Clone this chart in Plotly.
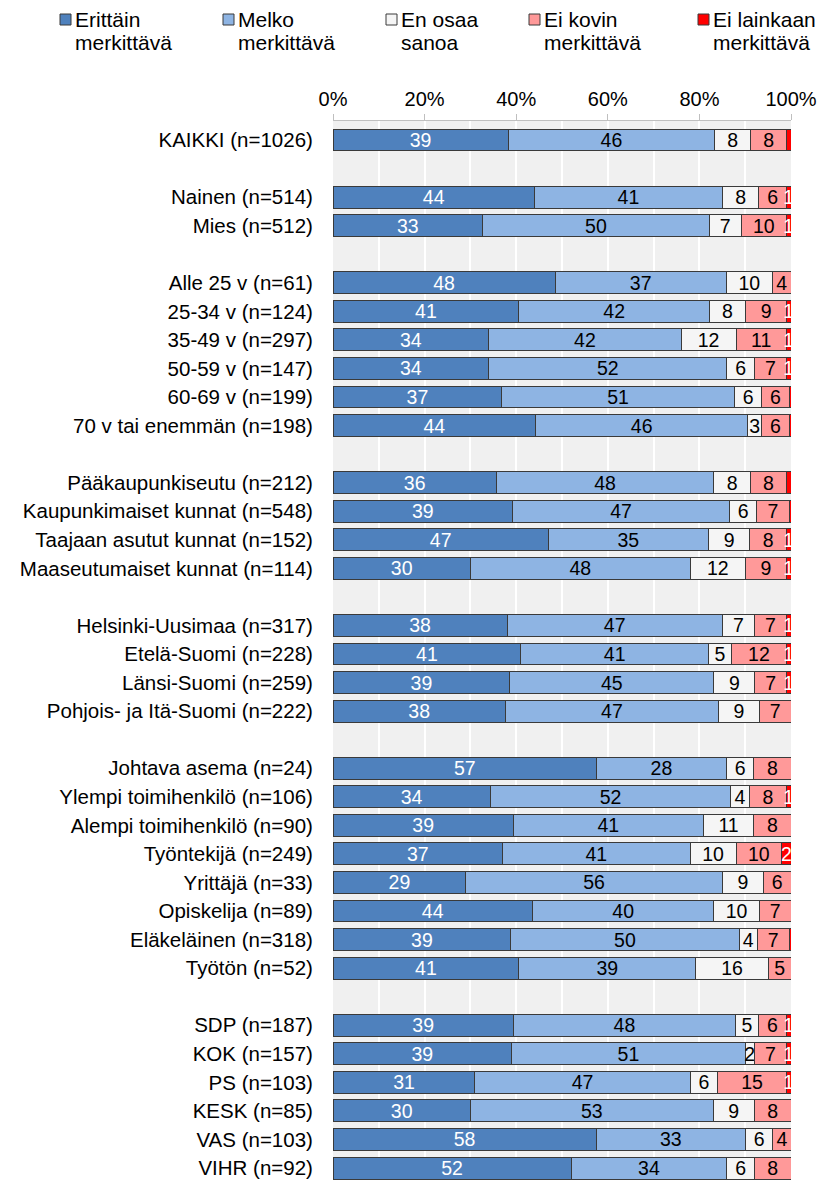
import plotly.graph_objects as go

# ---------------- data ----------------
series_names = ["Erittäin merkittävä", "Melko merkittävä", "En osaa sanoa",
                "Ei kovin merkittävä", "Ei lainkaan merkittävä"]
legend_line1 = ["Erittäin", "Melko", "En osaa", "Ei kovin", "Ei lainkaan"]
legend_line2 = ["merkittävä", "merkittävä", "sanoa", "merkittävä", "merkittävä"]
series_colors = ["#4f81bd", "#8eb4e3", "#f5f5f5", "#ff9999", "#ff0000"]
text_colors = ["white", "black", "black", "black", "white"]

groups = [
    ["KAIKKI (n=1026)"],
    ["Nainen (n=514)", "Mies (n=512)"],
    ["Alle 25 v (n=61)", "25-34 v (n=124)", "35-49 v (n=297)", "50-59 v (n=147)",
     "60-69 v (n=199)", "70 v tai enemmän (n=198)"],
    ["Pääkaupunkiseutu (n=212)", "Kaupunkimaiset kunnat (n=548)",
     "Taajaan asutut kunnat (n=152)", "Maaseutumaiset kunnat (n=114)"],
    ["Helsinki-Uusimaa (n=317)", "Etelä-Suomi (n=228)", "Länsi-Suomi (n=259)",
     "Pohjois- ja Itä-Suomi (n=222)"],
    ["Johtava asema (n=24)", "Ylempi toimihenkilö (n=106)", "Alempi toimihenkilö (n=90)",
     "Työntekijä (n=249)", "Yrittäjä (n=33)", "Opiskelija (n=89)", "Eläkeläinen (n=318)",
     "Työtön (n=52)"],
    ["SDP (n=187)", "KOK (n=157)", "PS (n=103)", "KESK (n=85)", "VAS (n=103)", "VIHR (n=92)"],
]

erittain = [39, 44, 33, 48, 41, 34, 34, 37, 44, 36, 39, 47, 30, 38, 41, 39, 38,
            57, 34, 39, 37, 29, 44, 39, 41, 39, 39, 31, 30, 58, 52]
melko =    [46, 41, 50, 37, 42, 42, 52, 51, 46, 48, 47, 35, 48, 47, 41, 45, 47,
            28, 52, 41, 41, 56, 40, 50, 39, 48, 51, 47, 53, 33, 34]
en_osaa =  [8, 8, 7, 10, 8, 12, 6, 6, 3, 8, 6, 9, 12, 7, 5, 9, 9,
            6, 4, 11, 10, 9, 10, 4, 16, 5, 2, 6, 9, 6, 6]
ei_kovin = [8, 6, 10, 4, 9, 11, 7, 6, 6, 8, 7, 8, 9, 7, 12, 7, 7,
            8, 8, 8, 10, 6, 7, 7, 5, 6, 7, 15, 8, 4, 8]
ei_lainkaan = [1, 1, 1, 0, 1, 1, 1, 0.4, 0.4, 1, 0.4, 1, 1, 1, 1, 1, 0,
               0, 1, 0, 2, 0, 0, 0.4, 0, 1, 1, 1, 0, 0, 0]

tick_vals_pct = [0, 20, 40, 60, 80, 100]
tick_text_pct = ["0%", "20%", "40%", "60%", "80%", "100%"]

# ---------------- layout helpers ----------------
labels, ypos = [], []
pos = 0
for gi, g in enumerate(groups):
    if gi > 0:
        pos += 1
    for lab in g:
        labels.append(lab)
        ypos.append(pos)
        pos += 1

series = [erittain, melko, en_osaa, ei_kovin, ei_lainkaan]
totals = [sum(s[i] for s in series) for i in range(len(labels))]

W, H = 819, 1180
FONT = "Liberation Sans, Arial, sans-serif"

fig = go.Figure()
for name, vals, col, tcol in zip(series_names, series, series_colors, text_colors):
    xs = [v * 100.0 / t for v, t in zip(vals, totals)]
    txt = [str(int(v)) if v >= 1 else "" for v in vals]
    fig.add_trace(go.Bar(
        y=ypos, x=xs, orientation="h", name=name, width=0.77,
        marker=dict(color=col, line=dict(color="#3a3a3a", width=1)),
        text=txt, textposition="inside", insidetextanchor="middle", textangle=0,
        textfont=dict(color=tcol, size=19.5, family=FONT),
        cliponaxis=False, hoverinfo="skip", showlegend=False,
    ))

x0, x1 = 333, 791
top_px = 121
row_px = 28.56
y_top = -(140 - top_px) / row_px
y_bot = 36 + (H - 1168) / row_px

fig.update_layout(
    width=W, height=H, barmode="stack",
    margin=dict(l=0, r=0, t=0, b=0),
    paper_bgcolor="white", plot_bgcolor="#f0f0f0",
    font=dict(family=FONT, size=20, color="black"),
    uniformtext=dict(minsize=19.5, mode="show"),
    xaxis=dict(domain=[x0 / W, x1 / W], range=[0, 100], side="top",
               tickvals=tick_vals_pct, ticktext=tick_text_pct,
               ticks="outside", ticklen=6, tickcolor="#bfbfbf",
               showline=True, linecolor="#bfbfbf", linewidth=1,
               showgrid=True, gridcolor="white", gridwidth=1.5,
               minor=dict(dtick=10, showgrid=True, gridcolor="white", gridwidth=1.5),
               zeroline=False, automargin=False,
               tickfont=dict(size=20, family=FONT, color="black")),
    yaxis=dict(domain=[0, 1 - top_px / H], range=[y_bot, y_top],
               tickvals=ypos, ticktext=labels,
               ticks="outside", ticklen=15, tickcolor="rgba(0,0,0,0)",
               showgrid=False, zeroline=False, showline=False, automargin=False,
               tickfont=dict(size=20.5, family=FONT, color="black")),
    showlegend=False,
)

# manual legend (swatch + two-line label)
legend_x = [60, 223, 386, 529, 698]
for l1, l2, col, lx in zip(legend_line1, legend_line2, series_colors, legend_x):
    fig.add_shape(type="rect", xref="paper", yref="paper",
                  x0=lx / W, x1=(lx + 11) / W, y0=1 - 25 / H, y1=1 - 14 / H,
                  fillcolor=col, line=dict(color="#3a3a3a", width=1))
    for txt, cy in ((l1, 19.5), (l2, 42.5)):
        fig.add_annotation(xref="paper", yref="paper", x=(lx + 13) / W, y=1 - cy / H,
                           xanchor="left", yanchor="middle", align="left", showarrow=False,
                           text=txt, font=dict(size=21, family=FONT, color="black"))

fig.write_html("out.html", config={"displayModeBar": False},
               post_script="document.body.style.margin='0';document.body.style.overflow='hidden';")
